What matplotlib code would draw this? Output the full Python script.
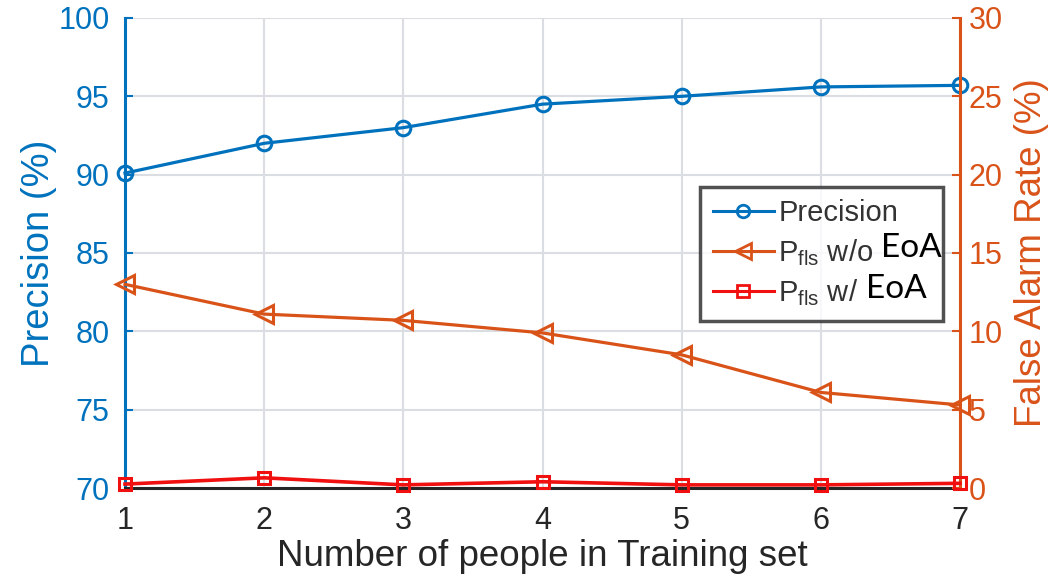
import matplotlib
matplotlib.use("Agg")
import matplotlib.pyplot as plt
from matplotlib.lines import Line2D

people = [1, 2, 3, 4, 5, 6, 7]
precision = [90.1, 92.0, 93.0, 94.5, 95.0, 95.6, 95.7]
fls_without_eoa = [13.0, 11.1, 10.7, 9.9, 8.5, 6.1, 5.3]
fls_with_eoa = [0.25, 0.65, 0.2, 0.4, 0.2, 0.2, 0.3]

blue = "#0072BD"
orange = "#D95319"
red = "#F01010"
text_gray = "#262626"

plt.rcParams["font.family"] = ["Liberation Sans", "DejaVu Sans"]

fig = plt.figure(figsize=(10.53, 5.8), dpi=100)
ax = fig.add_axes([0.1187, 0.1586, 0.7930, 0.8104])
ax2 = ax.twinx()

ax.set_xlim(1, 7)
ax.set_ylim(70, 100)
ax2.set_ylim(0, 30)
ax.set_xticks(people)
ax.set_yticks([70, 75, 80, 85, 90, 95, 100])
ax2.set_yticks([0, 5, 10, 15, 20, 25, 30])

ax.grid(True, color="#dadde2", linewidth=1.5)
ax.set_axisbelow(True)

ax.plot(people, precision, color=blue, lw=2.3, marker="o", ms=10.5,
        mfc="none", mew=2.2, clip_on=False, zorder=5)
ax2.plot(people, fls_without_eoa, color=orange, lw=2.3, marker="<", ms=13.5,
         mfc="none", mew=2.2, clip_on=False, zorder=5)
ax2.plot(people, fls_with_eoa, color=red, lw=2.6, marker="s", ms=8.5,
         mfc="none", mew=2.2, clip_on=False, zorder=5)

for a in (ax, ax2):
    a.spines["top"].set_visible(False)
ax.spines["left"].set_color(blue)
ax.spines["left"].set_linewidth(2.2)
ax.spines["bottom"].set_color(text_gray)
ax.spines["bottom"].set_linewidth(2.2)
ax.spines["right"].set_visible(False)
ax2.spines["left"].set_visible(False)
ax2.spines["bottom"].set_visible(False)
ax2.spines["right"].set_color(orange)
ax2.spines["right"].set_linewidth(2.2)

ax.tick_params(axis="y", colors=blue, labelsize=22, direction="in",
               length=6, width=1.5, pad=11)
ax.tick_params(axis="x", colors=text_gray, labelsize=22, direction="in",
               length=0, pad=13)
ax2.tick_params(axis="y", colors=orange, labelsize=22, direction="in",
                length=6, width=1.5, pad=6)

ax.set_xlabel("Number of people in Training set", fontsize=26.5,
              color=text_gray, labelpad=2)
ax.set_ylabel("Precision (%)", fontsize=27.5, color=blue, labelpad=1)
ax2.set_ylabel("False Alarm Rate (%)", fontsize=26.5, color=orange, labelpad=8)

handles = [
    Line2D([], [], color=blue, lw=2.2, marker="o", ms=9, mfc="none", mew=2),
    Line2D([], [], color=orange, lw=2.2, marker="<", ms=12, mfc="none", mew=2),
    Line2D([], [], color=red, lw=2.2, marker="s", ms=8, mfc="none", mew=2),
]
labels = ["Precision",
          r"P$_{\mathregular{fls}}$ w/o",
          r"P$_{\mathregular{fls}}$ w/"]
leg = ax2.legend(handles, labels, loc="upper left", mode="expand",
                 bbox_to_anchor=(0.689, 0.640, 0.291, 0.0), fontsize=21,
                 frameon=True, fancybox=False, edgecolor=text_gray,
                 handlelength=2.1, handletextpad=0.15, borderpad=0.42,
                 labelspacing=0.33, borderaxespad=0)
leg.get_frame().set_linewidth(2.5)
for t in leg.get_texts():
    t.set_color("#333333")

# "EoA" is set in black, in its own face, right after the two P_fls entries
fig.canvas.draw()
renderer = fig.canvas.get_renderer()
inv = fig.transFigure.inverted()
for t in leg.get_texts()[1:]:
    bb = t.get_window_extent(renderer)
    x0, y0 = inv.transform((bb.x1 + 8, bb.y0 + bb.height * 0.64))
    fig.text(x0, y0, "EoA", fontsize=24, color="black",
             family=["Lato", "DejaVu Sans"], va="center", ha="left")

fig.savefig("out.png", dpi=100)
